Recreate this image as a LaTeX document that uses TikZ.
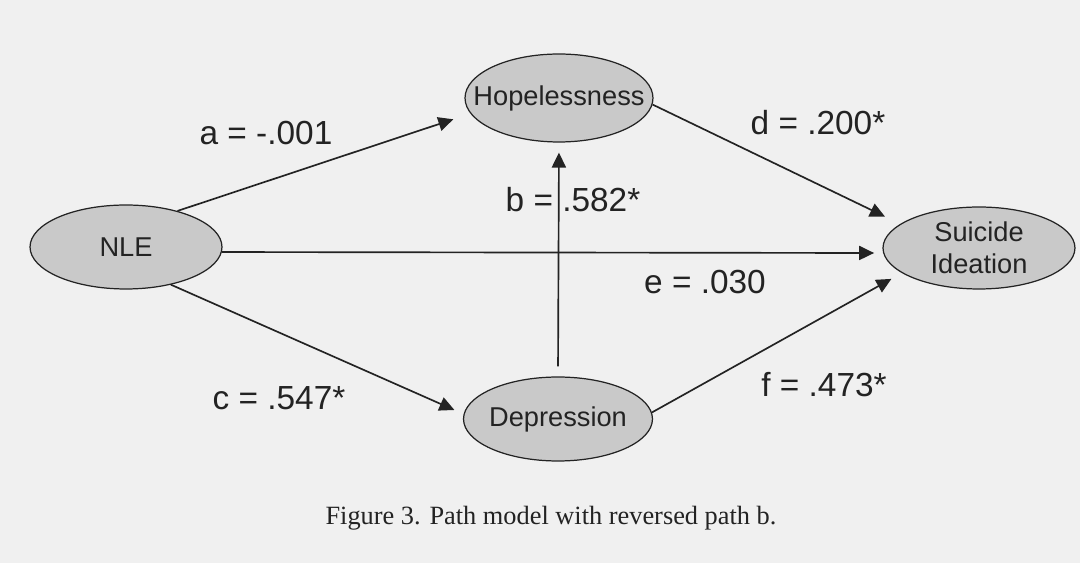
\documentclass[tikz,border=0pt]{standalone}
\usepackage{fontspec}
\setmainfont{Liberation Serif}
\setsansfont{Liberation Sans}
\usetikzlibrary{arrows.meta,shapes.geometric}
\definecolor{paper}{RGB}{240,240,240}
\definecolor{varfill}{RGB}{201,201,201}
\definecolor{ink}{RGB}{35,35,35}

\begin{document}
\begin{tikzpicture}[
  x=0.02cm, y=-0.02cm,
  var/.style={ellipse, draw=ink, line width=0.7pt, fill=varfill, inner xsep=-15pt, inner ysep=-6pt, align=center, text=ink, font=\sffamily\fontsize{15.5}{18.5}\selectfont},
  coef/.style={text=ink, font=\sffamily\fontsize{19}{21}\selectfont},
  arr/.style={-{Triangle[length=8.5pt,width=8pt]}, line width=0.95pt, draw=ink},
  caption/.style={text=ink, font=\fontsize{15}{17}\selectfont}
]
\path[use as bounding box, fill=paper] (0,0) rectangle (1080,563);
\node[var, minimum width=3.84cm, minimum height=1.68cm] (nle) at (126,247) {NLE};
\node[var, minimum width=3.76cm, minimum height=1.76cm] (hope) at (559,98) {Hopelessness};
\node[var, minimum width=3.78cm, minimum height=1.68cm] (dep) at (558,419) {Depression};
\node[var, minimum width=3.84cm, minimum height=1.64cm] (si) at (979,248) {Suicide\\ Ideation};
\node[coef] (la) at (266,133) {a = -.001};
\node[coef] (lb) at (573,200) {b = .582*};
\node[coef] (lc) at (279,398) {c = .547*};
\node[coef] (ld) at (818,123) {d = .200*};
\node[coef] (le) at (705,282) {e = .030};
\node[coef] (lf) at (824,385) {f = .473*};
\draw[arr, shorten >=0.36cm] (nle.35) -- (hope.190);
\draw[arr, shorten >=0.34cm] (hope.-4) -- (si.163);
\draw[arr, shorten >=0.18cm] (nle.-3) -- (si.183);
\draw[arr, shorten >=0.2cm] (nle.-40) -- (dep.177);
\draw[arr, shorten <=0.2cm, shorten >=0.2cm] (dep.north) -- (hope.south);
\draw[arr, shorten >=0.24cm] (dep.4) -- (si.198);
\node[caption] (cap) at (551,518) {Figure 3. Path model with reversed path b.};
\end{tikzpicture}
\end{document}
